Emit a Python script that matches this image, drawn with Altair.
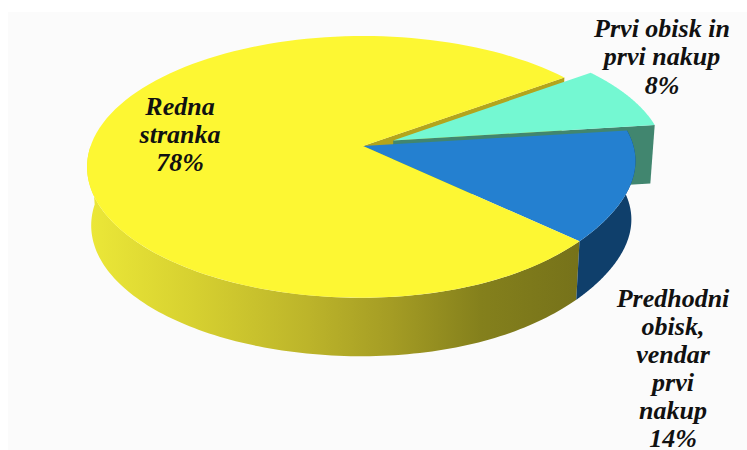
import math
import altair as alt

# Survey shares, in percent, going counter-clockwise from the upper right of the pie
categories = ["Redna stranka", "Predhodni obisk, vendar prvi nakup", "Prvi obisk in prvi nakup"]
shares = [78, 14, 8]
label_lines = [
    ["Redna", "stranka", "78%"],
    ["Predhodni", "obisk,", "vendar", "prvi", "nakup", "14%"],
    ["Prvi obisk in", "prvi nakup", "8%"],
]
label_centres = [(180, 135), (673, 369), (662, 57)]
label_step = [28, 28, 28.5]

top_colours = ["#fdf733", "#2480d0", "#74f8d2"]
wall_blue = "#0f3f6b"
wall_mint = "#41866f"
cut_yellow = "#b3a51c"
wall_yellow_stops = [
    (0.0, "#ece838"), (0.22, "#d6d030"), (0.45, "#bcb42a"),
    (0.62, "#a49c24"), (0.8, "#84801c"), (1.0, "#76721a"),
]

# Perspective of the pie plane
CX, CY = 363, 146
RX, RY, TILT = 272.4, 127.6, 0.16
DEPTH, FLOOR_SHRINK = 58.5, 0.985
START_DEG = 36
EXPLODE = 0.12
# The rim is drawn slightly flattened towards the lower right
FLATTEN, FLATTEN_AT, FLATTEN_SPREAD = 0.028, -35, 30


def project(u, v, floor=False):
    w = 1 + TILT * v
    x, y = RX * u / w, -RY * v / w
    if floor:
        return [CX + FLOOR_SHRINK * x, CY + y + DEPTH]
    return [CX + x, CY + y]


def rim(a0, a1, du=0.0, dv=0.0, floor=False, n=120):
    pts = []
    for i in range(n + 1):
        deg = a0 + (a1 - a0) * i / n
        wrapped = (deg + 180) % 360 - 180
        r = 1 - FLATTEN * math.exp(-(((wrapped - FLATTEN_AT) / FLATTEN_SPREAD) ** 2))
        a = math.radians(deg)
        pts.append(project(du + r * math.cos(a), dv + r * math.sin(a), floor))
    return pts


def shape(ring):
    return [{"type": "Feature", "properties": {},
             "geometry": {"type": "Polygon", "coordinates": [ring + [ring[0]]]}}]


# Slice angles follow directly from the shares
yellow_a0 = START_DEG
yellow_a1 = yellow_a0 + shares[0] * 3.6
blue_a0 = yellow_a1 - 360
blue_a1 = blue_a0 + shares[1] * 3.6
mint_a0 = blue_a1
mint_a1 = mint_a0 + shares[2] * 3.6
mid = math.radians((mint_a0 + mint_a1) / 2)
du, dv = EXPLODE * math.cos(mid), EXPLODE * math.sin(mid)

projection = alt.Projection(type="identity", scale=1, translate=[0, 0])


def poly(ring, **mark):
    return (alt.Chart(alt.Data(values=shape(ring)))
            .mark_geoshape(strokeWidth=0, **mark)
            .project(**projection.to_dict()))


# Off-white picture area inside a thin white margin
backdrop = poly([[8, 12], [747, 12], [747, 450], [8, 450]], fill="#fbfbfb")

# Outer wall of the large slice, shaded from left to right
ya0 = 180
wall_top = rim(ya0, yellow_a1)
wall_bottom = rim(ya0, yellow_a1, floor=True)
yellow_wall = poly(
    wall_top + wall_bottom[::-1],
    fill=alt.Gradient(
        gradient="linear", x1=0, x2=1, y1=0, y2=0,
        stops=[alt.GradientStop(offset=o, color=c) for o, c in wall_yellow_stops],
    ),
)
blue_wall = poly(rim(blue_a0, blue_a1) + rim(blue_a0, blue_a1, floor=True)[::-1], fill=wall_blue)

# Cut faces seen through the gap around the pulled-out slice
centre = project(0, 0)
centre_floor = project(0, 0, floor=True)
edge = rim(yellow_a0, yellow_a0, n=1)[0]
edge_floor = rim(yellow_a0, yellow_a0, floor=True, n=1)[0]
yellow_cut = poly([centre, edge, edge_floor, centre_floor], fill=cut_yellow)

m_centre = project(du, dv)
m_centre_floor = project(du, dv, floor=True)
m_edge = rim(mint_a0, mint_a0, du, dv, n=1)[0]
m_edge_floor = rim(mint_a0, mint_a0, du, dv, floor=True, n=1)[0]
mint_wall = poly([m_centre, m_edge, m_edge_floor, m_centre_floor], fill=wall_mint)

# Top faces
mint_top = poly([m_centre] + rim(mint_a0, mint_a1, du, dv), fill=top_colours[2])
blue_top = poly([centre] + rim(blue_a0, blue_a1), fill=top_colours[1])
yellow_top = poly([centre] + rim(yellow_a0, yellow_a1), fill=top_colours[0])

# Labels, one row per text line
rows = []
for lines, (cx, cy), step in zip(label_lines, label_centres, label_step):
    for i, line in enumerate(lines):
        rows.append({"lon": cx, "lat": cy + (i - (len(lines) - 1) / 2) * step, "text": line})

labels = (
    alt.Chart(alt.Data(values=rows))
    .mark_text(font="Liberation Serif", fontSize=26, fontWeight="bold", fontStyle="italic",
               color="#111111", align="center", baseline="middle")
    .encode(longitude="lon:Q", latitude="lat:Q", text="text:N")
    .project(**projection.to_dict())
)

chart = (
    alt.layer(backdrop, yellow_cut, mint_wall, yellow_wall, blue_wall,
              mint_top, blue_top, yellow_top, labels)
    .properties(width=747, height=450, padding=0, background="white",
                autosize=alt.AutoSizeParams(type="none"))
    .configure_view(stroke=None)
)

chart.save("out.html", embed_options={"renderer": "svg", "actions": False})
